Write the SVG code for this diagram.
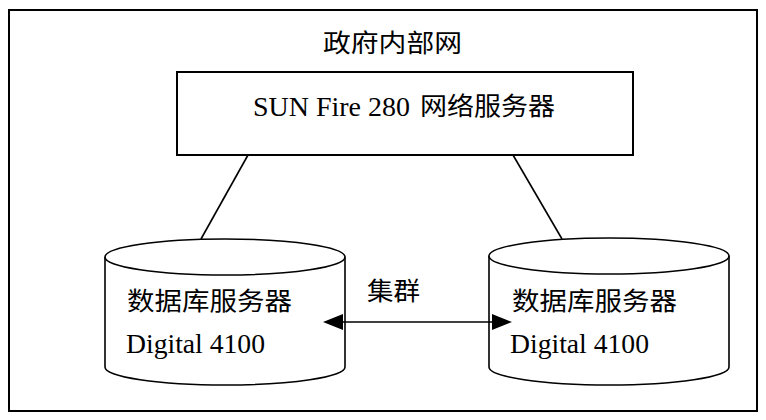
<svg xmlns="http://www.w3.org/2000/svg" width="766" height="420" viewBox="0 0 766 420">
<defs>
<style>
.ln{fill:none;stroke:#000;stroke-width:1.6}
.cyl{fill:#fff;stroke:#000;stroke-width:1.6}
.cjk{font-family:"Noto Sans CJK SC","Noto Sans",sans-serif;font-size:25px;fill:#000}
.lat{font-family:"Liberation Serif","Times New Roman",serif;font-size:27px;fill:#000}
</style>
</defs>
<rect width="766" height="420" fill="#fff"/>
<g id="frame">
<rect x="9" y="10" width="748" height="401" fill="none" stroke="#000" stroke-width="2"/>
<text class="cjk" x="323" y="52" textLength="139" lengthAdjust="spacingAndGlyphs">政府内部网</text>
</g>
<g id="server">
<rect x="177" y="72" width="456" height="83" fill="#fff" stroke="#000" stroke-width="2"/>
<text class="lat" x="253" y="116" textLength="157" lengthAdjust="spacingAndGlyphs">SUN Fire 280</text>
<text class="cjk" x="420" y="115" textLength="135" lengthAdjust="spacingAndGlyphs">网络服务器</text>
</g>
<g id="db1">
<path class="cyl" d="M105,257 L105,367 A120,18 0 0 0 345,367 L345,257"/>
<ellipse class="cyl" cx="225" cy="257" rx="120" ry="18"/>
<text class="cjk" x="127" y="310" textLength="165" lengthAdjust="spacingAndGlyphs">数据库服务器</text>
<text class="lat" x="126" y="353" textLength="139" lengthAdjust="spacingAndGlyphs">Digital 4100</text>
</g>
<g id="db2">
<path class="cyl" d="M489,256 L489,367 A120,18 0 0 0 729,367 L729,256"/>
<ellipse class="cyl" cx="609" cy="256" rx="120" ry="18"/>
<text class="cjk" x="512" y="310" textLength="165" lengthAdjust="spacingAndGlyphs">数据库服务器</text>
<text class="lat" x="510" y="353" textLength="139" lengthAdjust="spacingAndGlyphs">Digital 4100</text>
</g>
<g id="connectors">
<line class="ln" x1="248" y1="155" x2="201" y2="239"/>
<line class="ln" x1="513" y1="155" x2="562" y2="239"/>
<line class="ln" x1="340" y1="322" x2="495" y2="322"/>
<path d="M323,322 L343,314 L343,330 Z" fill="#000"/>
<path d="M512,322 L492,314 L492,330 Z" fill="#000"/>
<text class="cjk" x="367" y="300" textLength="53" lengthAdjust="spacingAndGlyphs">集群</text>
</g>
</svg>
